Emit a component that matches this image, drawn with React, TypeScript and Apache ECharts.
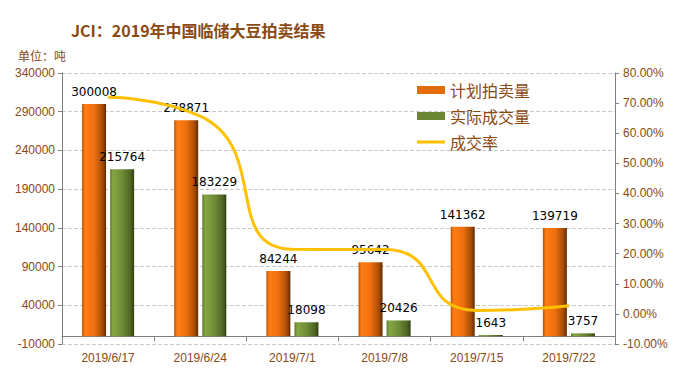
import React, { useEffect, useRef } from "react";
import * as echarts from "echarts";

const categories = ["2019/6/17", "2019/6/24", "2019/7/1", "2019/7/8", "2019/7/15", "2019/7/22"];
const planned = [300008, 278871, 84244, 95642, 141362, 139719];
const actual = [215764, 183229, 18098, 20426, 1643, 3757];
const rate = [71.92, 65.7, 21.48, 21.36, 1.16, 2.69];

const brown = "#8a4a12";

export default function App() {
  const ref = useRef<HTMLDivElement>(null);
  useEffect(() => {
    document.body.style.margin = "0";
    const chart = echarts.init(ref.current!, null, { renderer: "svg" });
    const orangeGrad = new echarts.graphic.LinearGradient(0, 0, 1, 0, [
      { offset: 0, color: "#b55207" },
      { offset: 0.12, color: "#ff7d12" },
      { offset: 0.5, color: "#f07010" },
      { offset: 0.85, color: "#a84c06" },
      { offset: 1, color: "#5e2a03" },
    ]);
    const greenGrad = new echarts.graphic.LinearGradient(0, 0, 1, 0, [
      { offset: 0, color: "#5d7a2a" },
      { offset: 0.12, color: "#86a645" },
      { offset: 0.5, color: "#6f8c36" },
      { offset: 0.85, color: "#4e6622" },
      { offset: 1, color: "#2f3f14" },
    ]);
    chart.setOption({
      animation: false,
      backgroundColor: "#ffffff",
      title: [
        {
          text: "JCI：2019年中国临储大豆拍卖结果",
          left: 66,
          top: 17,
          textStyle: { color: "#8a4a12", fontSize: 16, fontWeight: "bold", fontFamily: "Noto Sans CJK SC" },
        },
        {
          text: "单位：吨",
          left: 13,
          top: 44,
          textStyle: { color: brown, fontSize: 12, fontWeight: "normal", fontFamily: "Noto Sans CJK SC" },
        },
      ],
      legend: {
        orient: "vertical",
        left: 412,
        top: 77,
        itemGap: 10,
        itemWidth: 28,
        itemHeight: 8,
        textStyle: { color: brown, fontSize: 16, fontFamily: "Noto Sans CJK SC" },
        data: [
          { name: "计划拍卖量", icon: "rect", itemStyle: { color: "#e36c0a" } },
          { name: "实际成交量", icon: "rect", itemStyle: { color: "#6b8733" } },
          { name: "成交率", icon: "path://M0,0 L28,0 L28,3 L0,3 Z", itemStyle: { color: "#ffc000" } },
        ],
      },
      grid: { left: 62, right: 79, top: 73, bottom: 27, containLabel: false },
      xAxis: {
        type: "category",
        data: categories,
        axisLine: { onZero: true, onZeroAxisIndex: 0, lineStyle: { color: "#808080" } },
        axisTick: { show: true, alignWithLabel: false, length: 5, lineStyle: { color: "#808080" } },
        axisLabel: { color: brown, fontSize: 12, fontFamily: "Liberation Sans", margin: 8 },
        position: "bottom",
      },
      yAxis: [
        {
          type: "value",
          min: -10000,
          max: 340000,
          interval: 50000,
          axisLine: { show: true, lineStyle: { color: "#808080" } },
          axisTick: { show: true, length: 4, lineStyle: { color: "#808080" } },
          axisLabel: {
            color: brown,
            fontSize: 12,
            fontFamily: "Liberation Sans",
            margin: 7,
            formatter: (v: number) => String(v),
          },
          splitLine: { show: true, lineStyle: { color: "#c8c8c8", type: "dashed" } },
        },
        {
          type: "value",
          min: -10,
          max: 80,
          interval: 10,
          position: "right",
          axisLine: { show: true, lineStyle: { color: "#808080" } },
          axisTick: { show: true, length: 4, lineStyle: { color: "#808080" } },
          axisLabel: {
            color: brown,
            fontSize: 12,
            fontFamily: "Liberation Sans",
            margin: 8,
            formatter: (v: number) => v.toFixed(2) + "%",
          },
          splitLine: { show: false },
        },
      ],
      series: [
        {
          name: "计划拍卖量",
          type: "bar",
          data: planned,
          barWidth: 24,
          barGap: "17%",
          itemStyle: { color: orangeGrad },
          label: {
            show: true,
            position: "top",
            distance: 6,
            color: "#000",
            fontSize: 12,
            fontFamily: "DejaVu Sans",
          },
        },
        {
          name: "实际成交量",
          type: "bar",
          data: actual,
          barWidth: 24,
          itemStyle: { color: greenGrad },
          label: {
            show: true,
            position: "top",
            distance: 6,
            color: "#000",
            fontSize: 12,
            fontFamily: "DejaVu Sans",
          },
        },
        {
          name: "成交率",
          type: "line",
          yAxisIndex: 1,
          data: rate,
          smooth: 0.6,
          symbol: "none",
          lineStyle: { color: "#ffc000", width: 3 },
          itemStyle: { color: "#ffc000" },
          z: 5,
        },
      ],
    });
    return () => chart.dispose();
  }, []);
  return <div ref={ref} style={{ width: 694, height: 371 }} />;
}
